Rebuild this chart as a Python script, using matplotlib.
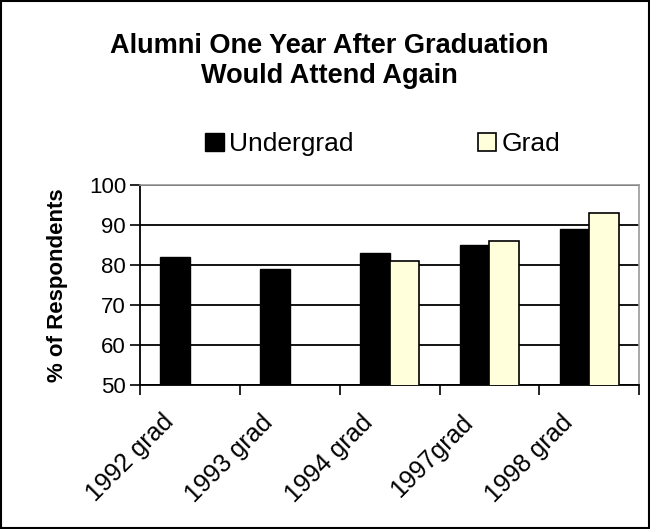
import matplotlib.pyplot as plt
import numpy as np
from matplotlib.patches import Rectangle

plt.rcParams['font.family'] = ['Liberation Sans', 'DejaVu Sans']

categories = ['1992 grad', '1993 grad', '1994 grad', '1997grad', '1998 grad']
undergrad = [82, 79, 83, 85, 89]
grad = [np.nan, np.nan, 81, 86, 93]

fig = plt.figure(figsize=(6.5, 5.29), dpi=100)
ax = fig.add_axes([0.2154, 0.272, 0.768, 0.378])

x = np.arange(len(categories))
w = 0.295
ax.bar(x - w / 2, undergrad, w, color='black', edgecolor='black', linewidth=1, label='Undergrad', zorder=3)
ax.bar(x + w / 2, grad, w, color='#ffffdc', edgecolor='black', linewidth=1.2, label='Grad', zorder=3)

ax.set_xlim(-0.5, len(categories) - 0.5)
ax.set_ylim(50, 100)
ax.set_yticks([50, 60, 70, 80, 90, 100])
ax.tick_params(axis='y', labelsize=16, length=7, width=1.2, direction='out', pad=3)
ax.set_xticks(np.arange(len(categories) + 1) - 0.5)
ax.set_xticklabels([])
ax.tick_params(axis='x', length=7, width=1.2, direction='out')
for i, lab in enumerate(categories):
    ax.text(i - 0.29, -0.125, lab, transform=ax.get_xaxis_transform(), rotation=45,
            ha='right', va='top', rotation_mode='anchor', fontsize=18)

ax.yaxis.grid(True, color='black', linewidth=1.3, zorder=0)
ax.set_axisbelow(True)
for s in ['top', 'right']:
    ax.spines[s].set_color('#999999')
    ax.spines[s].set_linewidth(1.2)
for s in ['left', 'bottom']:
    ax.spines[s].set_color('black')
    ax.spines[s].set_linewidth(1.3)

ax.set_ylabel('% of Respondents', fontsize=16, fontweight='bold', labelpad=15)

fig.text(0.507, 0.885, 'Alumni One Year After Graduation\nWould Attend Again', ha='center', va='center',
         fontsize=19.5, fontweight='bold', linespacing=1.2)

fig.legend(loc='center', bbox_to_anchor=(0.589, 0.727), ncol=2, frameon=False, fontsize=19,
           handlelength=0.7, handleheight=0.7, handletextpad=0.2, columnspacing=4.7)

fig.patches.append(Rectangle((0.002, 0.002), 0.996, 0.996, transform=fig.transFigure,
                             fill=False, edgecolor='black', linewidth=1.5))

fig.savefig('out.png', dpi=100)
